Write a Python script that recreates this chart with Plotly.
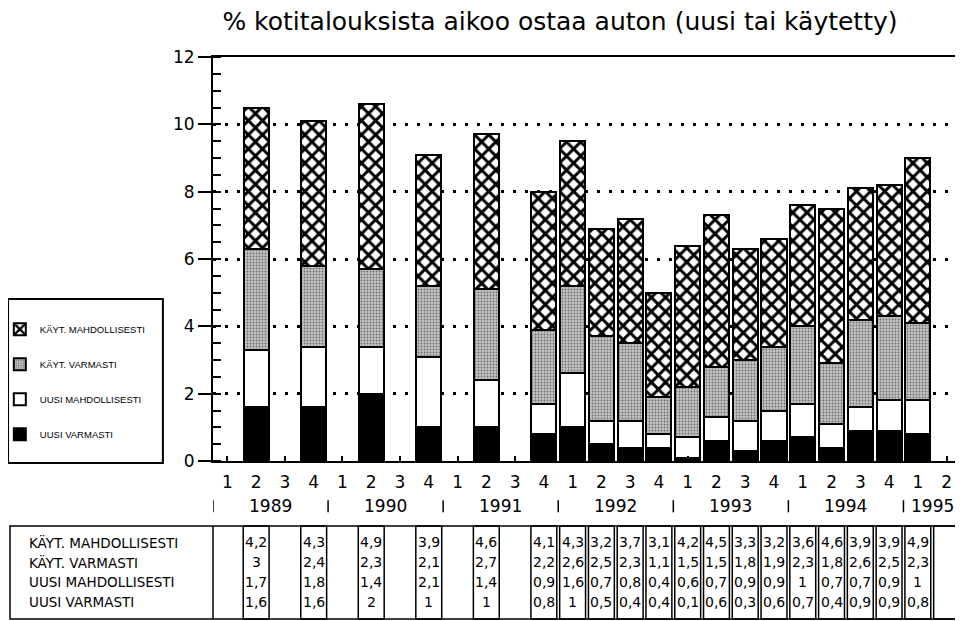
import plotly.graph_objects as go

# survey quarters with data (year, quarter), 1989 Q1 .. 1995 Q2 on the axis
first_year = 1989
n_quarters = 26
bar_periods = [(1989, 2), (1989, 4), (1990, 2), (1990, 4), (1991, 2), (1991, 4),
               (1992, 1), (1992, 2), (1992, 3), (1992, 4),
               (1993, 1), (1993, 2), (1993, 3), (1993, 4),
               (1994, 1), (1994, 2), (1994, 3), (1994, 4),
               (1995, 1)]

kayt_mahdollisesti = [4.2, 4.3, 4.9, 3.9, 4.6, 4.1, 4.3, 3.2, 3.7, 3.1, 4.2, 4.5, 3.3, 3.2, 3.6, 4.6, 3.9, 3.9, 4.9]
kayt_varmasti = [3, 2.4, 2.3, 2.1, 2.7, 2.2, 2.6, 2.5, 2.3, 1.1, 1.5, 1.5, 1.8, 1.9, 2.3, 1.8, 2.6, 2.5, 2.3]
uusi_mahdollisesti = [1.7, 1.8, 1.4, 2.1, 1.4, 0.9, 1.6, 0.7, 0.8, 0.4, 0.6, 0.7, 0.9, 0.9, 1, 0.7, 0.7, 0.9, 1]
uusi_varmasti = [1.6, 1.6, 2, 1, 1, 0.8, 1, 0.5, 0.4, 0.4, 0.1, 0.6, 0.3, 0.6, 0.7, 0.4, 0.9, 0.9, 0.8]

years = [1989, 1990, 1991, 1992, 1993, 1994, 1995]
quarter_labels = [str(i % 4 + 1) for i in range(n_quarters)]

title = "% kotitalouksista aikoo ostaa auton (uusi tai käytetty)"
font = "DejaVu Sans, Verdana, sans-serif"
narrow = "Liberation Sans Narrow, Arial Narrow, Liberation Sans, sans-serif"


def q_index(year, q):
    return (year - first_year) * 4 + (q - 1)


def fmt(v):
    return f"{v:g}".replace(".", ",")


x = [q_index(y, q) for y, q in bar_periods]

# stack order bottom -> top, rank = legend position from the top
series = [
    ("UUSI VARMASTI", uusi_varmasti, 4, dict(color="black")),
    ("UUSI MAHDOLLISESTI", uusi_mahdollisesti, 3, dict(color="white")),
    ("KÄYT. VARMASTI", kayt_varmasti, 2,
     dict(color="#b8b8b8", pattern=dict(shape=".", fgcolor="#6e6e6e", bgcolor="#c4c4c4", size=3, solidity=0.3, fillmode="replace"))),
    ("KÄYT. MAHDOLLISESTI", kayt_mahdollisesti, 1,
     dict(color="white", pattern=dict(shape="x", fgcolor="black", bgcolor="white", size=10, solidity=0.5, fillmode="replace"))),
]

fig = go.Figure()
for name, vals, rank, mk in series:
    fig.add_trace(go.Bar(
        x=x, y=vals, name=name, legendgroup=name, legendrank=rank, width=0.87,
        marker=dict(line=dict(color="black", width=2), **mk),
    ))

# invisible helper trace for inside major ticks on y
fig.add_trace(go.Scatter(x=[None], y=[None], yaxis="y2", showlegend=False))

# the page body adds an 8px offset, so the figure is 8px smaller than the window
fig.update_layout(
    width=955, height=613,
    margin=dict(l=205, r=2, t=49, b=160, autoexpand=False),
    barmode="stack",
    paper_bgcolor="white", plot_bgcolor="white",
    font=dict(family=font, size=17, color="black"),
    title=dict(text=title, x=0.578, xref="container", y=0.979, yref="container",
               xanchor="center", yanchor="middle", font=dict(size=25)),
    showlegend=True,
    legend=dict(x=-0.285, y=0.362, xanchor="left", yanchor="top", traceorder="grouped", itemwidth=30,
                tracegroupgap=16, bgcolor="rgba(0,0,0,0)", font=dict(family=narrow, size=9.5)),
    xaxis=dict(range=[-0.5, n_quarters - 0.5], tickvals=list(range(n_quarters)), ticktext=quarter_labels,
               ticks="inside", ticklen=5, tickwidth=1.5, tickcolor="black", ticklabelstandoff=5,
               showline=True, linewidth=2, linecolor="black", mirror=True, showgrid=False, zeroline=False),
    yaxis=dict(range=[0, 12], dtick=2, ticks="outside", ticklen=13, tickwidth=2, tickcolor="black",
               showline=True, linewidth=2, linecolor="black", mirror=True,
               showgrid=True, gridcolor="black", gridwidth=2.5, griddash="3px,9px", zeroline=False,
               minor=dict(dtick=0.5, ticks="inside", ticklen=8, tickwidth=1.5, tickcolor="black", showgrid=False)),
    yaxis2=dict(overlaying="y", side="left", range=[0, 12], dtick=2, ticks="inside", ticklen=8, tickwidth=2,
                tickcolor="black", showticklabels=False, showgrid=False, zeroline=False, showline=False),
)

# year labels and separators under the quarter numbers
year_y = -0.112
sep_y0, sep_y1 = -0.097, -0.127
for yr in years:
    qs = [i for i in range(n_quarters) if first_year + i // 4 == yr]
    fig.add_annotation(x=(qs[0] + qs[-1]) / 2, y=year_y, xref="x", yref="paper", text=str(yr),
                       showarrow=False, font=dict(size=17), yanchor="middle")
    fig.add_shape(type="line", xref="x", yref="paper", x0=qs[0] - 0.5, x1=qs[0] - 0.5, y0=sep_y0, y1=sep_y1,
                  line=dict(color="black", width=1.5))
fig.add_shape(type="line", xref="x", yref="paper", x0=n_quarters - 0.62, x1=n_quarters - 0.62, y0=sep_y0, y1=sep_y1,
              line=dict(color="black", width=1.5))

# legend frame
fig.add_shape(type="rect", xref="paper", yref="paper", x0=-0.274, x1=-0.067, y0=-0.005, y1=0.401,
              line=dict(color="black", width=2), fillcolor="rgba(0,0,0,0)")

# data table below the chart
table_top, table_bottom = -0.161, -0.391
first_row, row_step = -0.2005, 0.0495
row_names = ["KÄYT. MAHDOLLISESTI", "KÄYT. VARMASTI", "UUSI MAHDOLLISESTI", "UUSI VARMASTI"]
row_vals = [kayt_mahdollisesti, kayt_varmasti, uusi_mahdollisesti, uusi_varmasti]

fig.add_shape(type="rect", xref="paper", yref="paper", x0=-0.2714, x1=1.0, y0=table_bottom, y1=table_top,
              line=dict(color="black", width=1.5))
fig.add_shape(type="line", xref="paper", yref="paper", x0=0, x1=0, y0=table_bottom, y1=table_top,
              line=dict(color="black", width=1.5))

cell_cols = x + [q_index(1995, 2)]
for c in cell_cols:
    fig.add_shape(type="rect", xref="x", yref="paper", x0=c - 0.45, x1=c + 0.45, y0=table_bottom, y1=table_top,
                  line=dict(color="black", width=1.5))

for r, (nm, vals) in enumerate(zip(row_names, row_vals)):
    yy = first_row - row_step * r
    fig.add_annotation(x=-0.249, y=yy, xref="paper", yref="paper", text=nm, showarrow=False,
                       xanchor="left", yanchor="middle", font=dict(size=13.5))
    for xi, v in zip(x, vals):
        fig.add_annotation(x=xi, y=yy, xref="x", yref="paper", text=fmt(v), showarrow=False,
                           xanchor="center", yanchor="middle", font=dict(size=14))

fig.write_html("out.html")
